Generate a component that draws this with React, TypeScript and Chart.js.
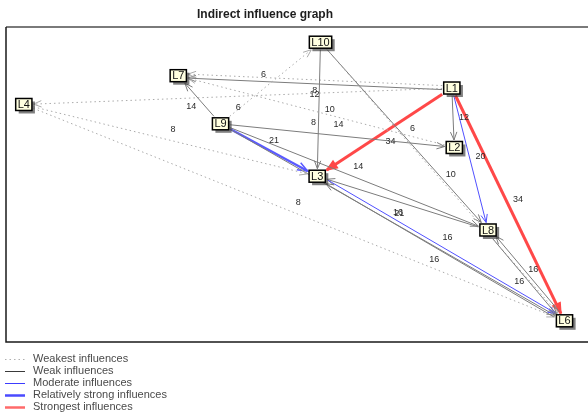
import React, { useEffect, useRef } from "react";
import { Chart, registerables } from "chart.js";

Chart.register(...registerables);

// ---- Data ----
const nodeNames = ["L1", "L2", "L3", "L4", "L6", "L7", "L8", "L9", "L10"];
const nodeX = [76.6, 77.03, 53.47, 3.06, 95.96, 29.6, 82.82, 36.86, 54.04];
const nodeY = [80.63, 61.75, 52.63, 75.4, 6.73, 84.54, 35.56, 69.27, 95.17];

const edgeFrom = ["L1", "L1", "L1", "L1", "L1", "L1", "L1", "L9", "L9", "L9", "L9", "L9", "L9", "L10", "L10", "L10", "L2", "L4", "L4", "L8", "L3", "L6", "L8", "L6"];
const edgeTo = ["L7", "L7", "L2", "L8", "L6", "L3", "L4", "L7", "L10", "L2", "L3", "L8", "L6", "L3", "L8", "L6", "L7", "L3", "L6", "L3", "L6", "L3", "L6", "L8"];
const edgeValue = [12, 8, 12, 20, 34, 34, 6, 14, 6, 14, 21, 14, 16, 10, 6, 10, 8, 8, 8, 21, 16, 16, 16, 16];
// 0 weakest, 1 weak, 2 moderate, 3 relatively strong, 4 strongest
const edgeClass = [1, 0, 1, 2, 4, 4, 0, 1, 0, 1, 3, 1, 1, 1, 1, 0, 0, 0, 0, 1, 2, 1, 1, 1];

const classNames = ["Weakest influences", "Weak influences", "Moderate influences", "Relatively strong influences", "Strongest influences"];
const chartTitle = "Indirect influence graph";

// ---- Styles ----
const FONT = "'Liberation Sans', Arial, sans-serif";
const classColor = ["#aaaaaa", "#7c7c7c", "#5050ff", "#5a5aff", "#ff4848"];
const classWidth = [1, 1, 1, 2.5, 3];
const classDash: number[][] = [[1.5, 3], [], [], [], []];
const legendColor = ["#b0b0b0", "#3a3a3a", "#3c3cff", "#4a4aff", "#ff6a6a"];
const legendWidth = [1, 1, 1, 2.5, 2.5];

const graphPlugin = {
  id: "graph",
  afterDatasetsDraw(chart: any) {
    const ctx: CanvasRenderingContext2D = chart.ctx;
    const xs = chart.scales.x;
    const ys = chart.scales.y;
    const area = chart.chartArea;
    const W = chart.width;

    // frame
    ctx.save();
    ctx.strokeStyle = "#7a7a7a";
    ctx.lineWidth = 2;
    ctx.beginPath();
    ctx.moveTo(area.left, area.top);
    ctx.lineTo(W, area.top);
    ctx.stroke();
    ctx.strokeStyle = "#1a1a1a";
    ctx.lineWidth = 1.5;
    ctx.beginPath();
    ctx.moveTo(area.left, area.top);
    ctx.lineTo(area.left, area.bottom);
    ctx.lineTo(W, area.bottom);
    ctx.stroke();
    ctx.restore();

    // node geometry
    ctx.font = "11px " + FONT;
    const nodes: Record<string, { x: number; y: number; hw: number; hh: number }> = {};
    nodeNames.forEach((n, i) => {
      const tw = ctx.measureText(n).width;
      nodes[n] = {
        x: xs.getPixelForValue(nodeX[i]),
        y: ys.getPixelForValue(nodeY[i]),
        hw: tw / 2 + 2,
        hh: 6,
      };
    });

    const border = (c: any, ux: number, uy: number) => {
      const tx = Math.abs(ux) > 1e-6 ? (c.hw + 1.5) / Math.abs(ux) : 1e9;
      const ty = Math.abs(uy) > 1e-6 ? (c.hh + 1.5) / Math.abs(uy) : 1e9;
      return Math.min(tx, ty);
    };

    // group parallel edges
    const groups: Record<string, number[]> = {};
    edgeFrom.forEach((f, i) => {
      const key = [f, edgeTo[i]].sort().join("|");
      (groups[key] = groups[key] || []).push(i);
    });

    const labels: { x: number; y: number; t: string }[] = [];

    edgeFrom.forEach((f, i) => {
      const a = nodes[f];
      const b = nodes[edgeTo[i]];
      const key = [f, edgeTo[i]].sort().join("|");
      const g = groups[key];
      const gi = g.indexOf(i);
      const off = (gi - (g.length - 1) / 2) * 4;
      // canonical perpendicular
      const [c1, c2] = key.split("|");
      const ca = nodes[c1], cb = nodes[c2];
      const cl = Math.hypot(cb.x - ca.x, cb.y - ca.y);
      const pnx = -(cb.y - ca.y) / cl, pny = (cb.x - ca.x) / cl;

      const ax = a.x + pnx * off, ay = a.y + pny * off;
      const bx = b.x + pnx * off, by = b.y + pny * off;
      const len = Math.hypot(bx - ax, by - ay);
      const ux = (bx - ax) / len, uy = (by - ay) / len;
      const s = border(a, ux, uy);
      const e = border(b, ux, uy);
      const p1x = ax + ux * s, p1y = ay + uy * s;
      const p2x = bx - ux * e, p2y = by - uy * e;

      const cls = edgeClass[i];
      ctx.save();
      ctx.strokeStyle = classColor[cls];
      ctx.fillStyle = classColor[cls];
      ctx.lineWidth = classWidth[cls];
      ctx.setLineDash(classDash[cls]);
      ctx.beginPath();
      ctx.moveTo(p1x, p1y);
      ctx.lineTo(p2x, p2y);
      ctx.stroke();
      ctx.setLineDash([]);
      // arrowhead
      const L = cls >= 3 ? 10 : 8;
      const Wd = cls >= 3 ? 4 : 3.2;
      const nx = -uy, ny = ux;
      ctx.lineWidth = cls >= 3 ? 1.5 : 1;
      ctx.beginPath();
      ctx.moveTo(p2x - ux * L + nx * Wd, p2y - uy * L + ny * Wd);
      ctx.lineTo(p2x, p2y);
      ctx.lineTo(p2x - ux * L - nx * Wd, p2y - uy * L - ny * Wd);
      if (cls === 4) {
        ctx.closePath();
        ctx.fill();
      }
      ctx.stroke();
      ctx.restore();

      const mx = (ax + bx) / 2, my = (ay + by) / 2;
      labels.push({ x: mx + uy * 11, y: my - ux * 11, t: String(edgeValue[i]) });
    });

    // labels
    ctx.save();
    ctx.font = "9px " + FONT;
    ctx.fillStyle = "#2a2a2a";
    ctx.textAlign = "center";
    ctx.textBaseline = "middle";
    labels.forEach((l) => ctx.fillText(l.t, l.x, l.y));
    ctx.restore();

    // nodes
    ctx.save();
    nodeNames.forEach((n) => {
      const c = nodes[n];
      const x0 = c.x - c.hw, y0 = c.y - c.hh;
      ctx.fillStyle = "rgba(60,60,60,0.65)";
      ctx.fillRect(x0 + 3, y0 + 3, c.hw * 2, c.hh * 2);
      ctx.fillStyle = "#ffffe0";
      ctx.fillRect(x0, y0, c.hw * 2, c.hh * 2);
      ctx.strokeStyle = "#000";
      ctx.lineWidth = 1.5;
      ctx.strokeRect(x0, y0, c.hw * 2, c.hh * 2);
      ctx.fillStyle = "#111";
      ctx.font = "11px " + FONT;
      ctx.textAlign = "center";
      ctx.textBaseline = "middle";
      ctx.fillText(n, c.x, c.y + 0.5);
    });
    ctx.restore();

    // title
    ctx.save();
    ctx.font = "bold 12px " + FONT;
    ctx.fillStyle = "#1e1e1e";
    ctx.textAlign = "center";
    ctx.textBaseline = "middle";
    ctx.fillText(chartTitle, 265, 15);
    ctx.restore();

    // legend
    ctx.save();
    ctx.font = "11px " + FONT;
    ctx.textBaseline = "middle";
    classNames.forEach((name, i) => {
      const y = Math.round(area.bottom + 16.5 + i * 12.2);
      ctx.strokeStyle = legendColor[i];
      ctx.lineWidth = legendWidth[i];
      ctx.setLineDash(classDash[i]);
      ctx.beginPath();
      ctx.moveTo(5, y + 0.5);
      ctx.lineTo(25, y + 0.5);
      ctx.stroke();
      ctx.setLineDash([]);
      ctx.fillStyle = "#4a4a4a";
      ctx.fillText(name, 33, y);
    });
    ctx.restore();
  },
};

export default function App() {
  const ref = useRef<HTMLCanvasElement | null>(null);
  useEffect(() => {
    if (!ref.current) return;
    const chart = new Chart(ref.current, {
      type: "scatter",
      data: {
        datasets: [
          {
            label: "nodes",
            data: nodeX.map((x, i) => ({ x, y: nodeY[i] })),
            pointRadius: 0,
          },
        ],
      },
      options: {
        animation: false,
        responsive: false,
        devicePixelRatio: 1,
        layout: { padding: { left: 6, top: 27, right: 0, bottom: 75 } },
        scales: {
          x: { display: false, min: 0, max: 100 },
          y: { display: false, min: 0, max: 100 },
        },
        plugins: {
          legend: { display: false },
          title: { display: false },
          tooltip: { enabled: false },
        },
      },
      plugins: [graphPlugin],
    } as any);
    return () => chart.destroy();
  }, []);
  return (
    <div style={{ position: "absolute", left: 0, top: 0, width: 588, height: 417, background: "#fff" }}>
      <canvas ref={ref} width={588} height={417} />
    </div>
  );
}
